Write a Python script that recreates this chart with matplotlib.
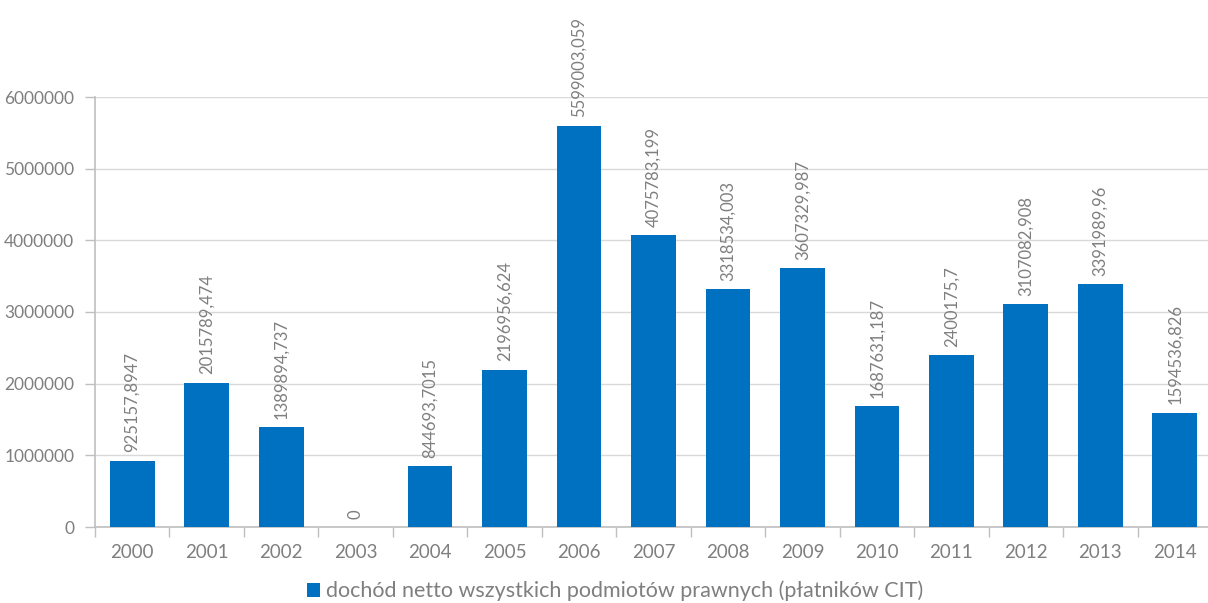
import matplotlib
matplotlib.use("Agg")
from matplotlib import pyplot as plt
import numpy as np

years = ['2000', '2001', '2002', '2003', '2004', '2005', '2006', '2007',
         '2008', '2009', '2010', '2011', '2012', '2013', '2014']
values = [925157.8947, 2015789.474, 1389894.737, 0.0, 844693.7015,
          2196956.624, 5599003.059, 4075783.199, 3318534.003, 3607329.987,
          1687631.187, 2400175.7, 3107082.908, 3391989.96, 1594536.826]
series_name = 'dochód netto wszystkich podmiotów prawnych (płatników CIT)'

plt.rcParams['font.family'] = ['Lato', 'DejaVu Sans']
blue = '#0070C0'
grey_txt = '#7F7F7F'

def fmt(v):
    s = repr(v)
    if s.endswith('.0'):
        s = s[:-2]
    return s.replace('.', ',')

fig = plt.figure(figsize=(12.08, 6.03), dpi=100)
ax = fig.add_axes([95/1208, 1-527/603, (1212-95)/1208, (527-97)/603])

x = np.arange(len(years))
bars = ax.bar(x, values, width=0.6, color=blue, zorder=3, label=series_name)

for xi, v in zip(x, values):
    ax.annotate(fmt(v), (xi, v), xytext=(0, 6), textcoords='offset points',
                rotation=90, ha='center', va='bottom', fontsize=12,
                color=grey_txt, zorder=4)

ax.set_xlim(-0.5, len(years)-0.5)
ax.set_ylim(0, 6000000)
ax.set_yticks(np.arange(0, 6000001, 1000000))
ax.set_yticklabels([str(int(t)) for t in np.arange(0, 6000001, 1000000)])
ax.yaxis.grid(True, color='#D9D9D9', linewidth=1, zorder=0)

ax.set_xticks(x)
ax.set_xticklabels(years)
ax.set_xticks(np.arange(-0.5, len(years), 1), minor=True)
ax.tick_params(axis='x', which='major', length=0, pad=12, labelsize=13.5, labelcolor=grey_txt)
ax.tick_params(axis='x', which='minor', length=7, color='#BFBFBF', width=1)
ax.tick_params(axis='y', length=7, color='#BFBFBF', width=1, pad=8, labelsize=12.5, labelcolor=grey_txt)

for s in ['top', 'right']:
    ax.spines[s].set_visible(False)
for s in ['left', 'bottom']:
    ax.spines[s].set_color('#BFBFBF')
    ax.spines[s].set_linewidth(1.2)

fig.legend(handles=[bars], labels=[series_name], loc='center',
           bbox_to_anchor=(615/1208, 1-591/603), frameon=False, fontsize=15.5,
           handlelength=0.6, handleheight=0.6, handletextpad=0.3,
           labelcolor=grey_txt)

fig.savefig('out.png', dpi=100)
